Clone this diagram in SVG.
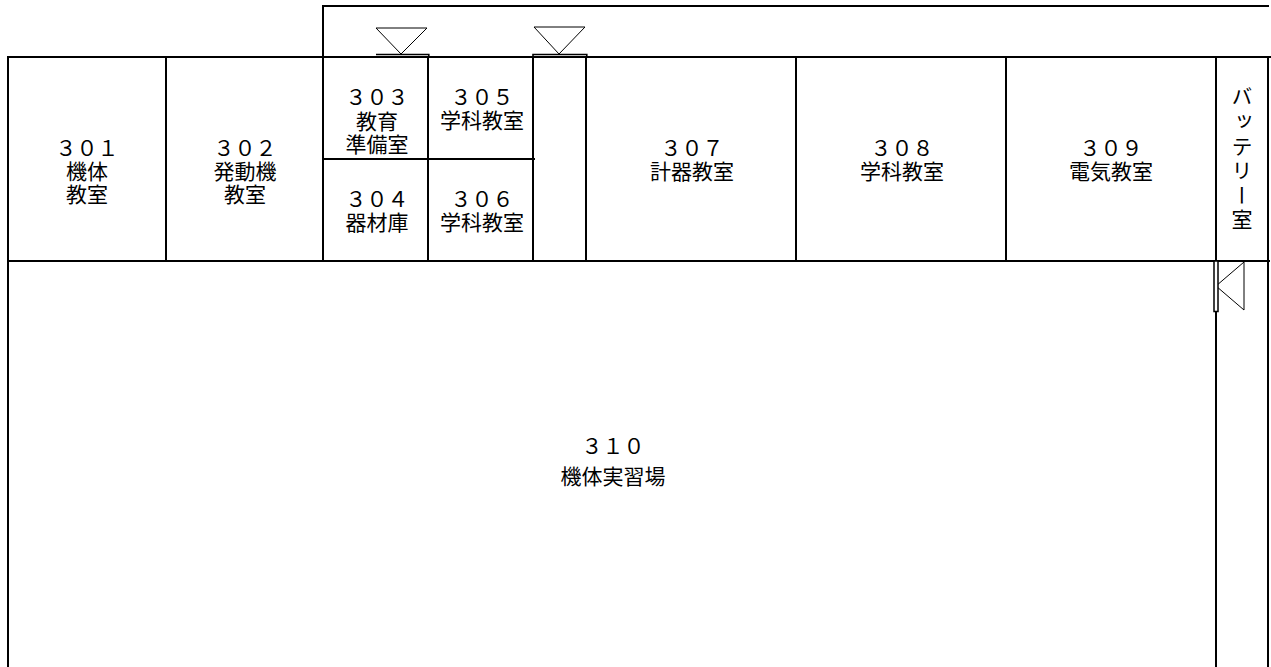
<svg xmlns="http://www.w3.org/2000/svg" width="1271" height="667" viewBox="0 0 1271 667">
<style>
.w{fill:none;stroke:#000;stroke-width:2}
.d{fill:#fff;stroke:#000;stroke-width:1}
.t{fill:none;stroke:#000;stroke-width:1.6}
text{font-family:"Noto Sans CJK JP","Liberation Sans",sans-serif;font-size:21px;text-anchor:middle;fill:#000}
</style>
<rect width="1271" height="667" fill="#fff"/>
<g id="walls">
<path class="w" d="M1269 6H323V57M8 57H1271M8 261H1270M8 56V667M166 57V261M323 57V261M428 57V261M533 57V261M586 57V261M796 57V261M1006 57V261M1216 57V667M1268 57V667M323 159H535"/>
</g>
<g id="doors">
<path class="d" d="M376 28H427L401 54Z"/>
<path class="d" d="M534 27H585L559 54Z"/>
<path class="d" d="M1244 262V310L1216 286Z"/>
<path class="t" d="M376 54.5H428.8V57M533 57V54.5H586.8V57"/>
<rect x="1214" y="261" width="4" height="50.5" fill="#fff" stroke="#000" stroke-width="1.5"/>
</g>
<g id="r301"><text x="87" y="156">３０１</text><text x="87" y="179">機体</text><text x="87" y="202">教室</text></g>
<g id="r302"><text x="245" y="156">３０２</text><text x="245" y="179">発動機</text><text x="245" y="202">教室</text></g>
<g id="r303"><text x="377" y="105">３０３</text><text x="377" y="129">教育</text><text x="377" y="152">準備室</text></g>
<g id="r304"><text x="377" y="207">３０４</text><text x="377" y="230">器材庫</text></g>
<g id="r305"><text x="482" y="105">３０５</text><text x="482" y="128">学科教室</text></g>
<g id="r306"><text x="482" y="207">３０６</text><text x="482" y="230">学科教室</text></g>
<g id="r307"><text x="692" y="156">３０７</text><text x="692" y="179">計器教室</text></g>
<g id="r308"><text x="902" y="156">３０８</text><text x="902" y="179">学科教室</text></g>
<g id="r309"><text x="1111" y="156">３０９</text><text x="1111" y="179">電気教室</text></g>
<g id="battery"><text x="1242" y="86" style="writing-mode:vertical-rl;text-anchor:start;letter-spacing:3.6px">バッテリー室</text></g>
<g id="r310"><text x="613" y="454">３１０</text><text x="613" y="484">機体実習場</text></g>
</svg>
